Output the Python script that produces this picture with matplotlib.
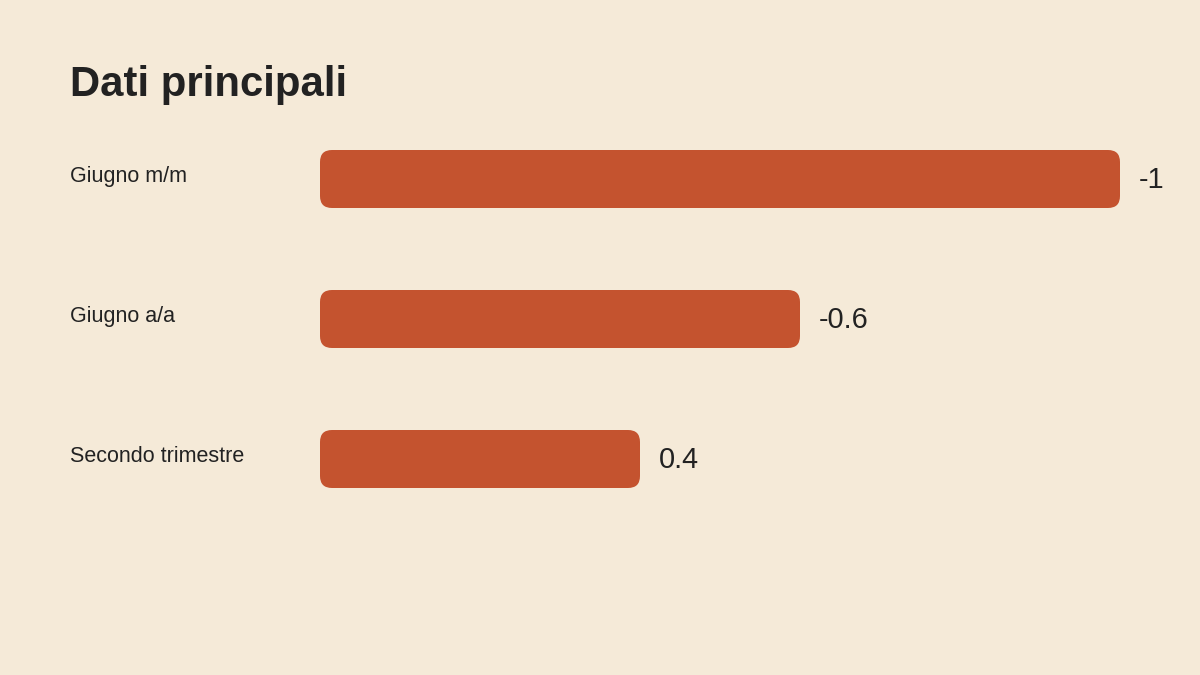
import matplotlib.pyplot as plt
from matplotlib.patches import FancyBboxPatch
from matplotlib.transforms import blended_transform_factory

categories = ['Giugno m/m', 'Giugno a/a', 'Secondo trimestre']
values = [-1, -0.6, 0.4]

bg = '#F5EAD8'
bar_color = '#C4532F'
text_color = '#222222'

plt.rcParams['font.family'] = ['Liberation Sans', 'DejaVu Sans']

fig = plt.figure(figsize=(12, 6.75), dpi=100)
fig.patch.set_facecolor(bg)

# axes spans 320..1120 px horizontally, one category per 140 px
ax = fig.add_axes([320 / 1200, (675 - 529) / 675, 800 / 1200, 420 / 675])
ax.set_facecolor(bg)
ax.set_xlim(0, 1)
ax.set_ylim(len(categories) - 0.5, -0.5)
ax.axis('off')

bar_h = 58 / 140
aspect = 800 / 140
for i, v in enumerate(values):
    w = abs(v)
    patch = FancyBboxPatch((0, i - bar_h / 2), w, bar_h,
                           boxstyle='round,pad=0,rounding_size=0.015',
                           mutation_aspect=aspect,
                           facecolor=bar_color, edgecolor='none', clip_on=False)
    ax.add_patch(patch)
    ax.text(w + 0.024, i + 0.01, '{:g}'.format(v), va='center', ha='left',
            fontsize=20.8, color=text_color, clip_on=False)

trans = blended_transform_factory(fig.transFigure, ax.transData)
for i, c in enumerate(categories):
    ax.text(70 / 1200, i - 0.015, c, transform=trans, va='center', ha='left',
            fontsize=15.5, color=text_color)

fig.text(70 / 1200, 1 - 96 / 675, 'Dati principali', va='baseline', ha='left',
         fontsize=30.2, fontweight='bold', color=text_color)

fig.savefig('out.png', dpi=100, facecolor=bg)
